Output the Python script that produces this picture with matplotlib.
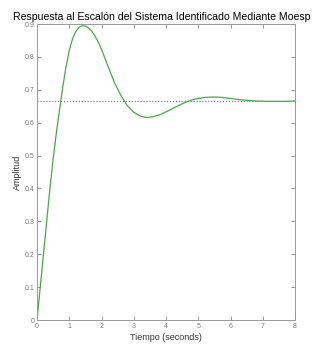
import matplotlib
matplotlib.use("Agg")
import matplotlib.pyplot as plt

# respuesta al escalon
t = [0, 0.1, 0.2, 0.3, 0.4, 0.5, 0.6, 0.7, 0.8, 0.9, 1.0, 1.1, 1.2, 1.3, 1.4,
     1.5, 1.6, 1.7, 1.8, 1.9, 2.0, 2.2, 2.4, 2.6, 2.8, 3.0, 3.2, 3.4, 3.6,
     3.8, 4.0, 4.2, 4.4, 4.6, 4.8, 5.0, 5.2, 5.4, 5.6, 5.8, 6.0, 6.2, 6.4,
     6.8, 7.2, 7.6, 8.0]
y = [0, 0.10, 0.20, 0.30, 0.40, 0.49, 0.57, 0.64, 0.71, 0.77, 0.82, 0.855,
     0.877, 0.890, 0.895, 0.894, 0.888, 0.878, 0.863, 0.845, 0.823, 0.772,
     0.722, 0.683, 0.652, 0.632, 0.620, 0.616, 0.618, 0.624, 0.633, 0.643,
     0.653, 0.662, 0.669, 0.674, 0.677, 0.678, 0.678, 0.676, 0.674, 0.671,
     0.669, 0.666, 0.665, 0.665, 0.666]
y_final = 0.6667
xticks = [0, 1, 2, 3, 4, 5, 6, 7, 8]
yticks = [0, 0.1, 0.2, 0.3, 0.4, 0.5, 0.6, 0.7, 0.8, 0.9]

plt.rcParams['font.family'] = ['Liberation Sans', 'DejaVu Sans']

fig = plt.figure(figsize=(3.23, 3.49), dpi=100)
ax = fig.add_axes([0.1146, 0.083, 0.7988, 0.848])

ax.plot([0, 8], [y_final, y_final], ':', color='#777777', lw=0.8)
ax.plot(t, y, color='#4aa84a', lw=0.9)

ax.set_xlim(0, 8)
ax.set_ylim(0, 0.9)
ax.set_xticks(xticks)
ax.set_yticks(yticks)
ax.set_xticklabels([str(v) for v in xticks])
ax.set_yticklabels(['0'] + ['%.1f' % v for v in yticks[1:]])
ax.tick_params(direction='in', top=True, right=True, length=3, width=0.6,
               labelsize=5, colors='#888888', labelcolor='#777777', pad=2)
for s in ax.spines.values():
    s.set_color('#999999')
    s.set_linewidth(0.7)

ax.set_title('Respuesta al Escalón del Sistema Identificado Mediante Moesp',
             fontsize=7.6, pad=3, x=0.485)
ax.set_xlabel('Tiempo (seconds)', fontsize=6.5, color='#333333', labelpad=2)
ax.set_ylabel('Amplitud', fontsize=6.5, color='#333333', labelpad=2)

plt.savefig('out.png', dpi=100)
